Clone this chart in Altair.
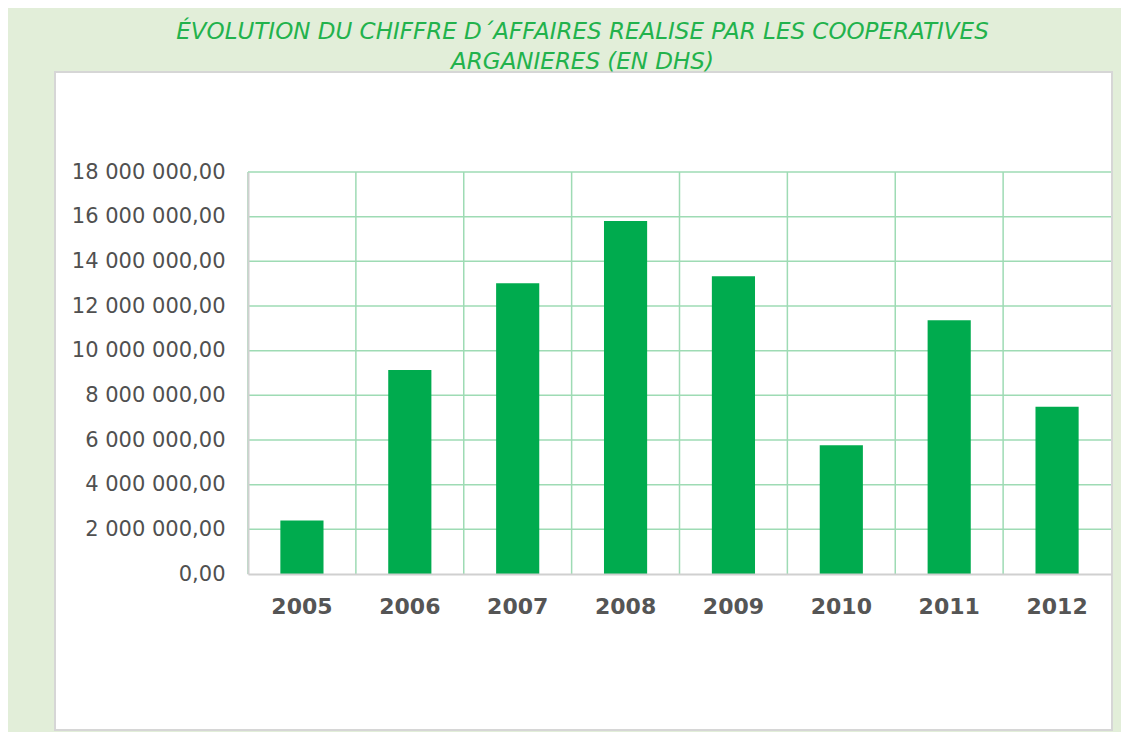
import altair as alt
import pandas as pd

years = ["2005", "2006", "2007", "2008", "2009", "2010", "2011", "2012"]
revenue = [2400000, 9130000, 13020000, 15810000, 13330000, 5770000, 11360000, 7490000]
y_ticks = [2000000, 4000000, 6000000, 8000000, 10000000, 12000000, 14000000, 16000000, 18000000]
title_lines = ["ÉVOLUTION DU CHIFFRE D´AFFAIRES REALISE PAR LES COOPERATIVES",
               "ARGANIERES (EN DHS)"]

df = pd.DataFrame({"year": years, "revenue": revenue})
ticks_df = pd.DataFrame({"v": y_ticks})

W, H = 863, 402
PL, PT = 240, 164
FULL_W, FULL_H = 1113, 724

GRID = "#9edbb4"
BAR = "#00ab4e"

x_scale = alt.Scale(paddingInner=0, paddingOuter=0)
y_scale = alt.Scale(domain=[0, 18000000], nice=False)

x_axis = alt.Axis(title=None, labelAngle=0, ticks=False, grid=False, zindex=2,
                  labelFont="DejaVu Sans", labelFontWeight="bold",
                  labelFontSize=22, labelColor="#555555", labelPadding=22,
                  domainColor="#d0d0d0", domainWidth=2)
y_axis = alt.Axis(title=None, ticks=False, grid=False, values=[0] + y_ticks, zindex=2,
                  labelExpr="replace(replace(format(datum.value, ','), ',', ' '), ',', ' ') + ',00'",
                  labelFont="DejaVu Sans", labelFontSize=21, labelColor="#505050",
                  labelPadding=23, domainColor="#d0d0d0", domainWidth=2)

panel = alt.Chart(pd.DataFrame({"a": [0]})).mark_rect(
    fill="white", stroke="#d6d6d6", strokeWidth=2, clip=False
).encode(
    x=alt.value(47 - PL), x2=alt.value(1104 - PL),
    y=alt.value(64 - PT), y2=alt.value(722 - PT),
)

hgrid = alt.Chart(ticks_df).mark_rule(color=GRID, strokeWidth=1.5).encode(
    y=alt.Y("v:Q", scale=y_scale, axis=y_axis)
)

vgrid = alt.Chart(df).mark_rule(color=GRID, strokeWidth=1.5).encode(
    x=alt.X("year:N", bandPosition=0, scale=x_scale, axis=x_axis)
)

bars = alt.Chart(df).mark_bar(color=BAR, width=alt.RelativeBandSize(0.4)).encode(
    x=alt.X("year:N", scale=x_scale, axis=x_axis),
    y=alt.Y("revenue:Q", scale=y_scale, axis=y_axis),
)

chart = alt.layer(panel, hgrid, vgrid, bars).properties(
    width=W, height=H,
    autosize=alt.AutoSizeParams(type="none"),
    padding={"left": PL, "top": PT, "right": FULL_W - PL - W, "bottom": FULL_H - PT - H},
    background="#e2eed9",
    title=alt.TitleParams(
        text=title_lines, font="DejaVu Sans", fontStyle="italic", fontWeight="normal",
        fontSize=23, color="#22b24c", anchor="middle", dx=-97, offset=0, dy=3, lineHeight=30,
    ),
).configure_view(stroke=None)

chart.save("out.html", embed_options={"renderer": "svg", "actions": False})
